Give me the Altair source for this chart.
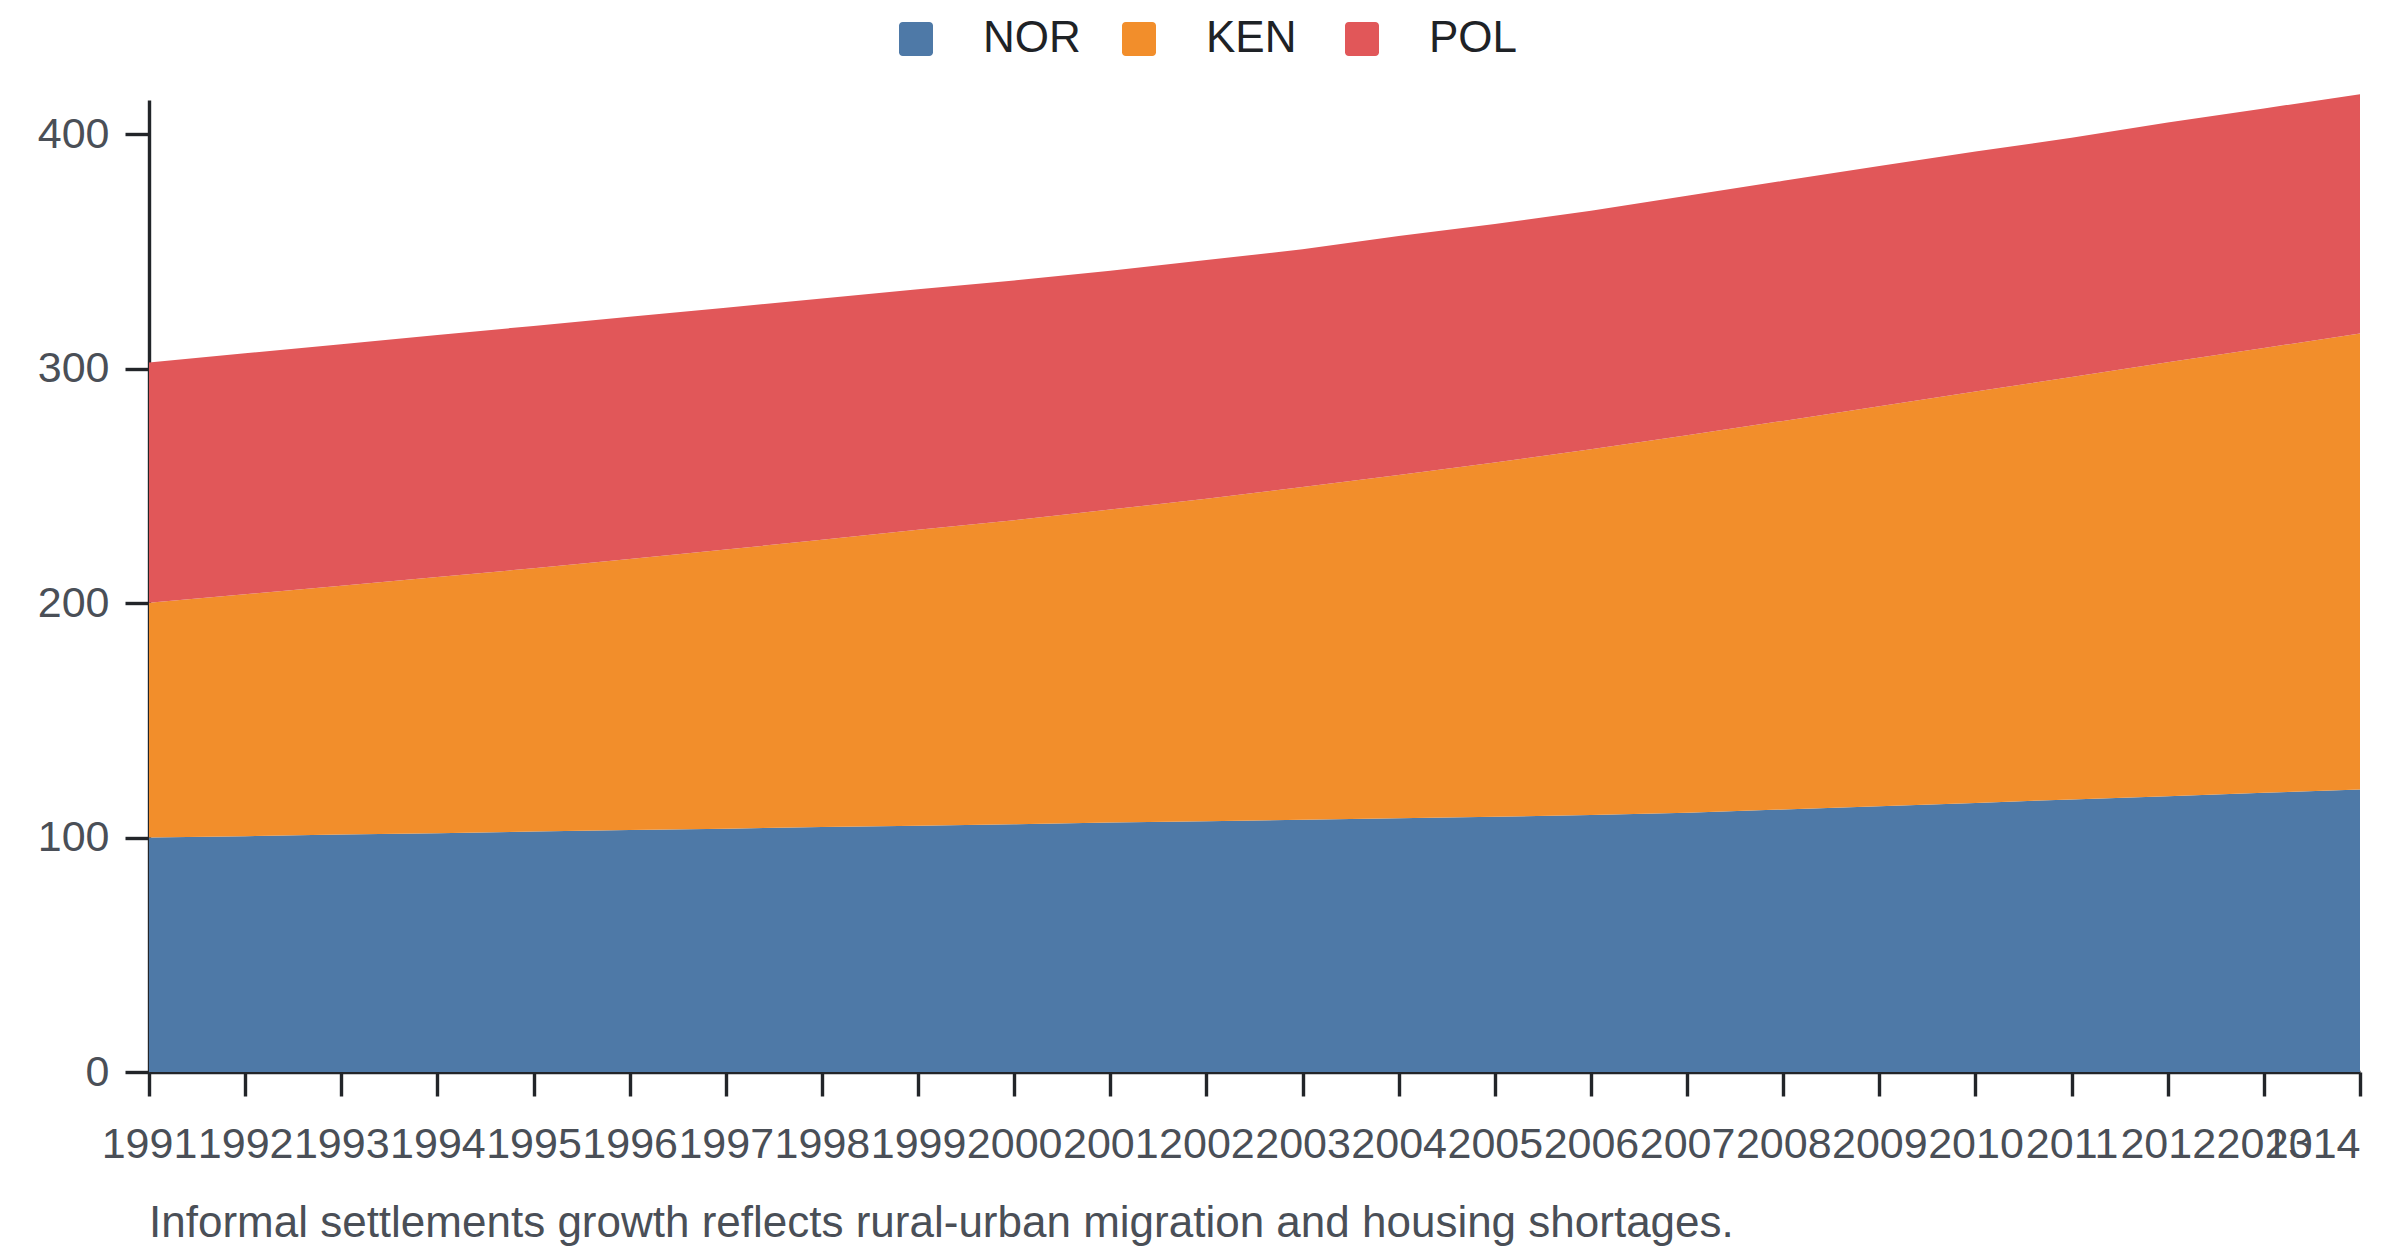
import altair as alt
import pandas as pd

years = list(range(1991, 2015))
series = ["NOR", "KEN", "POL"]
colors = ["#4e79a7", "#f28e2b", "#e15759"]

nor = [100.0, 100.6, 101.3, 101.9, 102.6, 103.2, 103.8, 104.5, 105.1, 105.7, 106.4, 107.0,
       107.6, 108.3, 108.9, 109.6, 110.6, 112.0, 113.4, 114.8, 116.3, 117.7, 119.1, 120.5]
ken = [100.2, 103.2, 106.2, 109.3, 112.3, 115.7, 119.1, 122.6, 126.3, 129.7, 133.6, 137.6,
       142.0, 146.4, 151.1, 156.1, 161.1, 165.8, 170.6, 175.5, 180.2, 185.1, 189.8, 194.6]
pol = [102.5, 102.8, 103.0, 103.2, 103.4, 103.3, 103.2, 102.9, 102.6, 102.3, 101.8, 101.8,
       101.4, 102.0, 101.8, 101.8, 102.1, 102.4, 102.5, 102.4, 102.1, 102.3, 102.2, 102.1]
y_ticks = [0, 100, 200, 300, 400]
caption = "Informal settlements growth reflects rural-urban migration and housing shortages."

rows = []
for i, (name, vals) in enumerate(zip(series, [nor, ken, pol])):
    for yr, v in zip(years, vals):
        rows.append({"year": yr, "country": name, "value": v, "order": i})
df = pd.DataFrame(rows)

FONT = "Liberation Sans"
TXT = "#4a4f57"
AXC = "#222529"

rounded_square = ("M -0.78 -1 L 0.78 -1 A 0.22 0.22 0 0 1 1 -0.78 L 1 0.78 "
                  "A 0.22 0.22 0 0 1 0.78 1 L -0.78 1 A 0.22 0.22 0 0 1 -1 0.78 "
                  "L -1 -0.78 A 0.22 0.22 0 0 1 -0.78 -1 Z")

chart = alt.Chart(df).mark_area(interpolate="linear", opacity=1).encode(
    x=alt.X("year:O", scale=alt.Scale(type="point", padding=0),
            axis=alt.Axis(title=None, labelAngle=0, labelOverlap=False, labelBound=False,
                          labelFontSize=43, labelFont=FONT, labelColor=TXT,
                          labelPadding=27, tickSize=24, tickWidth=3.4, tickColor=AXC,
                          domainColor=AXC, domainWidth=3.4, grid=False,
                          labelAlign=alt.expr("datum.label == '2014' ? 'right' : 'center'"))),
    y=alt.Y("value:Q", stack="zero",
            scale=alt.Scale(domain=[0, 414.7], nice=False, zero=True),
            axis=alt.Axis(title=None, values=y_ticks, labelFontSize=43, labelFont=FONT,
                          labelColor=TXT, labelPadding=16, tickSize=24, tickWidth=3.4,
                          tickColor=AXC, domainColor=AXC, domainWidth=3.4, grid=False)),
    color=alt.Color("country:N", sort=series,
                    scale=alt.Scale(domain=series, range=colors),
                    legend=alt.Legend(title=None, orient="none", legendX=745, legendY=-83,
                                      direction="horizontal", symbolType=rounded_square,
                                      symbolSize=1156, symbolStrokeWidth=0, symbolOpacity=1,
                                      labelFontSize=44, labelFont=FONT, labelColor="#1e2226",
                                      labelOffset=45, columnPadding=36, gridAlign="all",
                                      padding=0)),
    order=alt.Order("order:Q", sort="ascending"),
).properties(
    width=2211,
    height=972,
    background="white",
    title=alt.TitleParams(caption, orient="bottom", anchor="start", frame="group",
                          fontSize=44, font=FONT, color=TXT, fontWeight="normal", offset=36),
    autosize=alt.AutoSizeParams(type="none"),
    padding={"left": 141, "top": 92, "right": 30, "bottom": 176},
).configure_view(strokeWidth=0, stroke="transparent")

chart.save("out.html", embed_options={"renderer": "svg", "actions": False})
